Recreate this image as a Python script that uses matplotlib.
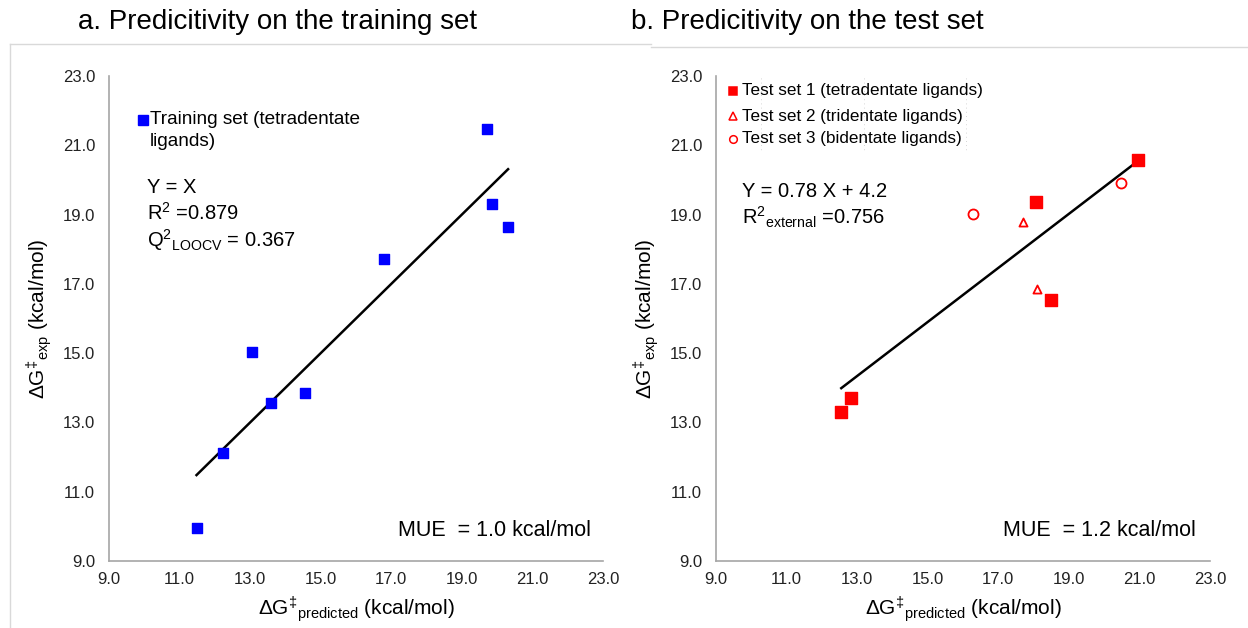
import numpy as np
import matplotlib
import matplotlib.pyplot as plt
from matplotlib.lines import Line2D

matplotlib.rcParams['font.family'] = ['Liberation Sans', 'DejaVu Sans']
matplotlib.rcParams['mathtext.fontset'] = 'custom'
matplotlib.rcParams['mathtext.rm'] = 'Liberation Sans'
matplotlib.rcParams['mathtext.it'] = 'Liberation Sans'
matplotlib.rcParams['mathtext.default'] = 'regular'

# training set (tetradentate ligands)
train_pred = [11.48, 12.23, 13.04, 13.59, 14.55, 16.78, 19.72, 19.85, 20.31]
train_exp = [9.96, 12.11, 15.02, 13.57, 13.85, 17.71, 21.46, 19.31, 18.64]

# test sets
test1_pred = [12.55, 12.84, 18.08, 18.49, 20.96]
test1_exp = [13.31, 13.70, 19.36, 16.53, 20.57]
test2_pred = [17.69, 18.11]
test2_exp = [18.79, 16.84]
test3_pred = [16.27, 20.49]
test3_exp = [19.02, 19.90]

fit_slope = 0.78
fit_icpt = 4.2

ticks = [9.0, 11.0, 13.0, 15.0, 17.0, 19.0, 21.0, 23.0]
tick_labels = ['9.0', '11.0', '13.0', '15.0', '17.0', '19.0', '21.0', '23.0']

W, H = 1248, 628
fig = plt.figure(figsize=(W / 100, H / 100), dpi=100)


def px(x, y):
    return x / W, 1 - y / H


def setup(ax):
    ax.set_xlim(9, 23)
    ax.set_ylim(9, 23)
    ax.set_xticks(ticks)
    ax.set_yticks(ticks)
    ax.set_xticklabels(tick_labels)
    ax.set_yticklabels(tick_labels)
    ax.tick_params(length=0, labelsize=12, colors='#222222')
    ax.tick_params(axis='y', pad=10)
    ax.tick_params(axis='x', pad=8)
    for s in ['top', 'right']:
        ax.spines[s].set_visible(False)
    for s in ['left', 'bottom']:
        ax.spines[s].set_color('#a6a6a6')
        ax.spines[s].set_linewidth(1.2)
    ax.set_xlabel('$\\Delta G^{‡}{}_{predicted}$ (kcal/mol)', fontsize=15, labelpad=5)
    ax.set_ylabel('$\\Delta G^{‡}{}_{exp}$ (kcal/mol)', fontsize=15, labelpad=6)


# panel a
ax1 = fig.add_axes([109 / W, 1 - 561 / H, 494 / W, 485 / H])
setup(ax1)
xs = np.array([min(train_pred), max(train_pred)])
ax1.plot(xs, xs, color='black', lw=1.8, zorder=2)
ax1.scatter(train_pred, train_exp, marker='s', s=52, color='#0000ff', zorder=3)

fig.text(*px(150, 111), 'Training set (tetradentate\nligands)', fontsize=13.7,
         va='top', ha='left', linespacing=1.4)
fig.lines.append(Line2D([143 / W], [1 - 120 / H], marker='s', ms=7,
                        color='#0000ff', transform=fig.transFigure))
fig.text(*px(147, 188), 'Y = X', fontsize=14.5, va='center')
fig.text(*px(147, 213), 'R$^{2}$ =0.879', fontsize=14.5, va='center')
fig.text(*px(147, 240), 'Q$^{2}{}_{LOOCV}$ = 0.367', fontsize=14.5, va='center')
fig.text(*px(591, 530), 'MUE  = 1.0 kcal/mol', fontsize=15.5, va='center', ha='right')

# panel b
ax2 = fig.add_axes([716 / W, 1 - 561 / H, 494 / W, 485 / H])
setup(ax2)
xs2 = np.array([min(test1_pred), max(test1_pred)])
ax2.plot(xs2, fit_slope * xs2 + fit_icpt, color='black', lw=1.8, zorder=2)
ax2.scatter(test1_pred, test1_exp, marker='s', s=64, color='#ff0000', zorder=3)
ax2.scatter(test2_pred, test2_exp, marker='^', s=34, facecolors='white',
            edgecolors='#ff0000', linewidths=1.3, zorder=3)
ax2.scatter(test3_pred, test3_exp, marker='o', s=52, facecolors='white',
            edgecolors='#ff0000', linewidths=1.3, zorder=3)

leg_rows = [('s', 'Test set 1 (tetradentate ligands)', 91, True),
            ('^', 'Test set 2 (tridentate ligands)', 116, False),
            ('o', 'Test set 3 (bidentate ligands)', 139, False)]
for mk, lab, yy, filled in leg_rows:
    fig.lines.append(Line2D([733 / W], [1 - yy / H], marker=mk, ms=5.5 if mk != 's' else 6,
                            color='#ff0000', mfc='#ff0000' if filled else 'white',
                            mew=1.1, transform=fig.transFigure))
    fig.text(*px(742, yy), lab, fontsize=12.3, va='center', ha='left')
# dotted text-box guides around the legend entries
for gx in [761, 864, 966]:
    fig.lines.append(Line2D([gx / W, gx / W], [1 - 78 / H, 1 - 152 / H], ls=(0, (1, 4)),
                            lw=0.6, color='#c8c8c8', transform=fig.transFigure))

fig.text(*px(742, 192), 'Y = 0.78 X + 4.2', fontsize=14.5, va='center')
fig.text(*px(742, 217), 'R$^{2}{}_{external}$ =0.756', fontsize=14.5, va='center')
fig.text(*px(1196, 530), 'MUE  = 1.2 kcal/mol', fontsize=15.5, va='center', ha='right')

# titles
fig.text(*px(277, 22), 'a. Predicitivity on the training set', fontsize=20,
         ha='center', va='center')
fig.text(*px(807, 22), 'b. Predicitivity on the test set', fontsize=20,
         ha='center', va='center')

# panel frames
fc = '#d9d9d9'
fig.lines.append(Line2D([10 / W, 651 / W], [1 - 44 / H, 1 - 44 / H], color=fc, lw=1,
                        transform=fig.transFigure))
fig.lines.append(Line2D([10 / W, 10 / W], [1 - 44 / H, 0], color=fc, lw=1,
                        transform=fig.transFigure))
fig.lines.append(Line2D([651 / W, 1], [1 - 47 / H, 1 - 47 / H], color=fc, lw=1,
                        transform=fig.transFigure))

plt.savefig('out.png', dpi=100)
